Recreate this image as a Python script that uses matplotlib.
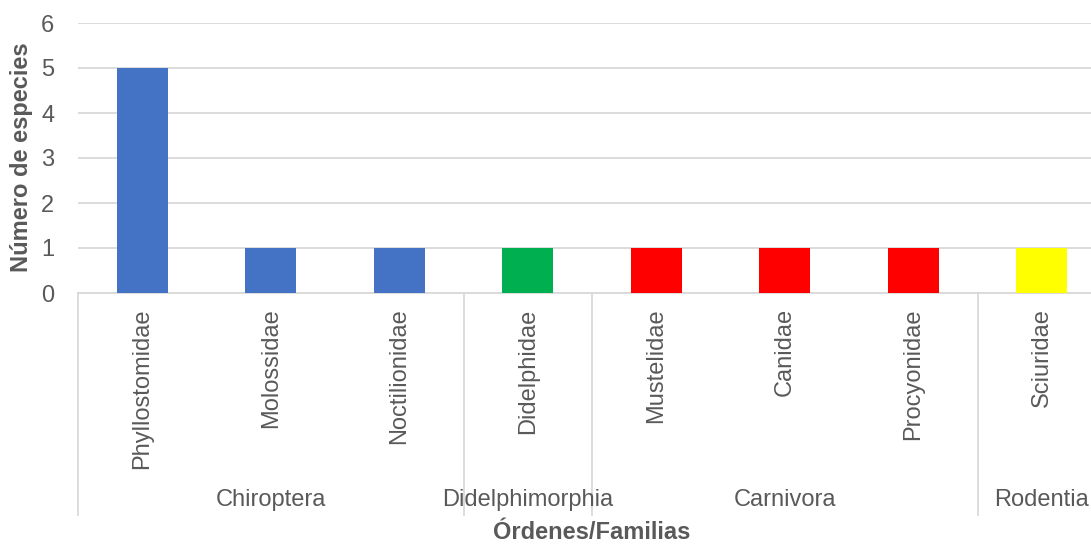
import matplotlib.pyplot as plt
from matplotlib.transforms import blended_transform_factory

plt.rcParams['font.family'] = ['Liberation Sans', 'DejaVu Sans']

# data
familias = ['Phyllostomidae', 'Molossidae', 'Noctilionidae', 'Didelphidae',
            'Mustelidae', 'Canidae', 'Procyonidae', 'Sciuridae']
especies = [5, 1, 1, 1, 1, 1, 1, 1]
ordenes = ['Chiroptera', 'Didelphimorphia', 'Carnivora', 'Rodentia']
n_por_orden = [3, 1, 3, 1]
colores_orden = ['#4472C4', '#00B050', '#FF0000', '#FFFF00']

txt = '#595959'
grid_c = '#D9D9D9'

W, H = 1091, 544
fig = plt.figure(figsize=(W / 100, H / 100), dpi=100)
# plot area: x from 78px, 128.5px per category; y 0 at 293px, 6 at 23px
ax = fig.add_axes([78 / W, (H - 293) / H, 8 * 128.5 / W, 270 / H])

colores = []
for c, n in zip(colores_orden, n_por_orden):
    colores += [c] * n

x = list(range(len(familias)))
ax.bar(x, especies, width=0.4, color=colores, zorder=3)

ax.set_xlim(-0.5, 7.5)
ax.set_ylim(0, 6)
ax.set_yticks(range(7))
ax.yaxis.grid(True, color=grid_c, linewidth=1.3, zorder=0)
for s in ['top', 'right', 'left']:
    ax.spines[s].set_visible(False)
ax.spines['bottom'].set_color(grid_c)
ax.spines['bottom'].set_linewidth(1.3)
ax.tick_params(axis='y', length=0, pad=17, labelsize=17, labelcolor=txt)
ax.tick_params(axis='x', length=0, pad=11, labelsize=17, labelcolor=txt)
ax.set_xticks(x)
ax.set_xticklabels(familias, rotation=90)

# multi-level category axis
trans = blended_transform_factory(ax.transData, ax.transAxes)
bordes = [-0.5]
for n in n_por_orden:
    bordes.append(bordes[-1] + n)
for b in bordes:
    ax.plot([b, b], [0, -0.822], color=grid_c, linewidth=1.3,
            transform=trans, clip_on=False)
for i, nombre in enumerate(ordenes):
    centro = (bordes[i] + bordes[i + 1]) / 2
    ax.text(centro, -0.767, nombre, transform=trans, ha='center', va='center',
            fontsize=17, color=txt)

ax.text(3.5, -0.888, 'Órdenes/Familias', transform=trans, ha='center',
        va='center', fontsize=17, fontweight='bold', color=txt)
fig.text(22 / W, (H - 157) / H, 'Número de especies', rotation=90,
         ha='center', va='center', fontsize=17, fontweight='bold', color=txt)

fig.savefig('out.png', dpi=100)
